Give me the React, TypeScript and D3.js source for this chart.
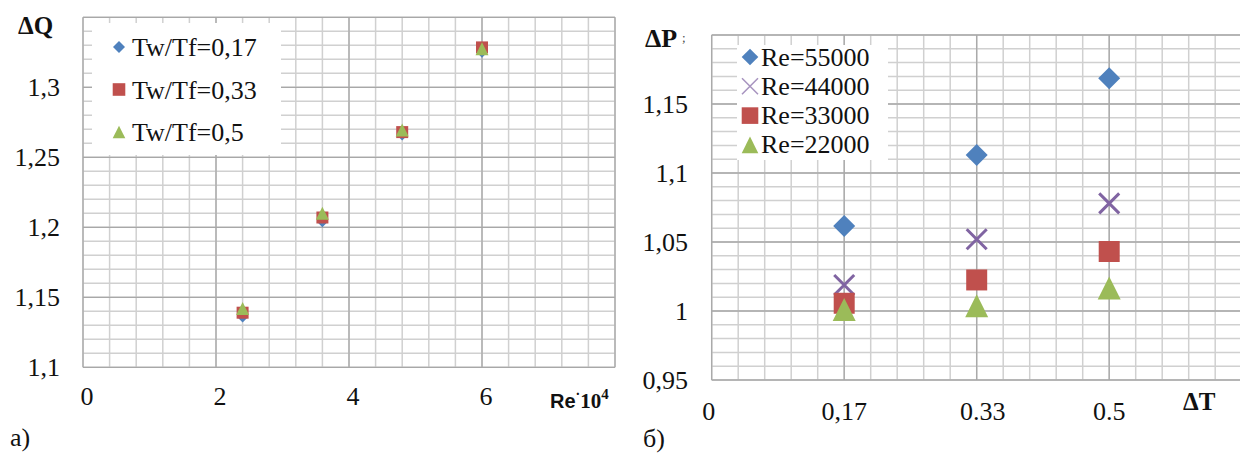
import React from "react";
import * as d3 from "d3";

// ---------- Data: chart a) ----------
const reValues = [2.4, 3.6, 4.8, 6.0];
const seriesA_017 = [1.136, 1.204, 1.266, 1.325];
const seriesA_033 = [1.139, 1.207, 1.268, 1.3285];
const seriesA_05 = [1.142, 1.210, 1.2695, 1.3275];
const legendA = ["Tw/Tf=0,17", "Tw/Tf=0,33", "Tw/Tf=0,5"];
const xTicksA = [0, 2, 4, 6];
const yTicksA = [1.1, 1.15, 1.2, 1.25, 1.3];
const yTickLabelsA = ["1,1", "1,15", "1,2", "1,25", "1,3"];

// ---------- Data: chart б) ----------
const dtPositions = [1, 2, 3];
const xTickLabelsB = ["0", "0,17", "0.33", "0.5"];
const re55000 = [1.0616, 1.113, 1.1686];
const re44000 = [1.0188, 1.052, 1.078];
const re33000 = [1.0056, 1.0225, 1.0431];
const re22000 = [1.001, 1.0038, 1.0167];
const legendB = ["Re=55000", "Re=44000", "Re=33000", "Re=22000"];
const yTicksB = [0.95, 1, 1.05, 1.1, 1.15];
const yTickLabelsB = ["0,95", "1", "1,05", "1,1", "1,15"];

const BLUE = "#4F81BD";
const RED = "#C0504D";
const GREEN = "#9BBB59";
const PURPLE = "#8064A2";
const MINOR = "#d0d0d0";
const MAJOR = "#a8a8a8";
const SERIF = '"Liberation Serif", "Times New Roman", "DejaVu Serif", serif';
const SANS = '"Liberation Sans", Arial, sans-serif';

function diamond(cx: number, cy: number, r: number) {
  return `M${cx},${cy - r}L${cx + r},${cy}L${cx},${cy + r}L${cx - r},${cy}Z`;
}
function square(cx: number, cy: number, r: number) {
  return `M${cx - r},${cy - r}H${cx + r}V${cy + r}H${cx - r}Z`;
}
function triangle(cx: number, cy: number, r: number) {
  return `M${cx},${cy - r}L${cx + r},${cy + r}L${cx - r},${cy + r}Z`;
}
function cross(cx: number, cy: number, r: number) {
  return `M${cx - r},${cy - r}L${cx + r},${cy + r}M${cx + r},${cy - r}L${cx - r},${cy + r}`;
}

function Grid({ x, y, xMinor, xMajor, yMinor, yMajor }: any) {
  const [x0, x1] = x.range();
  const [y0, y1] = y.range();
  return (
    <g>
      {yMinor.map((v: number, i: number) => (
        <line key={"ym" + i} x1={x0} x2={x1} y1={y(v)} y2={y(v)} stroke={MINOR} strokeWidth={1.5} />
      ))}
      {xMinor.map((v: number, i: number) => (
        <line key={"xm" + i} x1={x(v)} x2={x(v)} y1={y0} y2={y1} stroke={MINOR} strokeWidth={1.5} />
      ))}
      {yMajor.map((v: number, i: number) => (
        <line key={"yM" + i} x1={x0} x2={x1} y1={y(v)} y2={y(v)} stroke={MAJOR} strokeWidth={1.3} />
      ))}
      {xMajor.map((v: number, i: number) => (
        <line key={"xM" + i} x1={x(v)} x2={x(v)} y1={y0} y2={y1} stroke={MAJOR} strokeWidth={1.3} />
      ))}
    </g>
  );
}

const serifStyle = { fontFamily: SERIF };

export default function App() {
  // ---- chart a scales ----
  const xA = d3.scaleLinear().domain([0, 8]).range([83, 615]);
  const yA = d3.scaleLinear().domain([1.1, 1.35]).range([367.3, 17.3]);
  const xMinorA = d3.range(0, 8.001, 0.4);
  const xMajorA = d3.range(0, 8.001, 2);
  const yMinorA = d3.range(1.1, 1.3501, 0.01);
  const yMajorA = d3.range(1.1, 1.3501, 0.05);

  // ---- chart b scales ----
  const xB = d3.scaleLinear().domain([0, 4]).range([711.7, 1241.7]);
  const yB = d3.scaleLinear().domain([0.95, 1.2]).range([380, 35]);
  const xMinorB = d3.range(0, 4.001, 0.2);
  const xMajorB = d3.range(0, 4.001, 1);
  const yMinorB = d3.range(0.95, 1.2001, 0.01);
  const yMajorB = d3.range(0.95, 1.2001, 0.05);

  const seriesA = [
    { vals: seriesA_017, color: BLUE, shape: diamond, r: 5.5 },
    { vals: seriesA_033, color: RED, shape: square, r: 6 },
    { vals: seriesA_05, color: GREEN, shape: triangle, r: 6.5 },
  ];
  const seriesB = [
    { vals: re55000, color: BLUE, shape: diamond, r: 11 },
    { vals: re44000, color: PURPLE, shape: cross, r: 10 },
    { vals: re33000, color: RED, shape: square, r: 10.5 },
    { vals: re22000, color: GREEN, shape: triangle, r: 11.5 },
  ];

  return (
    <svg
      width={1240}
      height={455}
      style={{ position: "absolute", left: 0, top: 0, background: "#fff", overflow: "hidden" }}
    >
      <style>{`text { font-family: "Liberation Serif", "Times New Roman", "DejaVu Serif", serif; }`}</style>
      <rect x={0} y={0} width={1240} height={455} fill="#fff" />
      {/* ================= Chart a ================= */}
      <Grid x={xA} y={yA} xMinor={xMinorA} xMajor={xMajorA} yMinor={yMinorA} yMajor={yMajorA} />
      {/* legend a */}
      <rect x={92} y={23} width={189} height={132} fill="#fff" />
      {legendA.map((t, i) => {
        const cy = 47 + i * 42.5;
        const s = seriesA[i];
        return (
          <g key={t}>
            <path d={s.shape(119, cy, i === 0 ? 6 : 6.3)} fill={s.color} />
            <text x={132} y={cy + 9} fontSize={26} fill="#111" style={serifStyle}>{t}</text>
          </g>
        );
      })}
      {seriesA.map((s, si) => (
        <g key={si}>
          {s.vals.map((v, i) => (
            <path key={i} d={s.shape(xA(reValues[i]), yA(v), s.r)} fill={s.color} />
          ))}
        </g>
      ))}
      {yTicksA.map((v, i) => (
        <text key={i} x={60} y={yA(v) + 9} textAnchor="end" fontSize={26} fill="#111" style={serifStyle}>
          {yTickLabelsA[i]}
        </text>
      ))}
      {xTicksA.map((v) => (
        <text key={v} x={xA(v) + 4} y={405} textAnchor="middle" fontSize={26} fill="#111" style={serifStyle}>
          {v}
        </text>
      ))}
      <text x={18} y={34} fontSize={25} fontWeight="bold" fill="#111" style={serifStyle}>ΔQ</text>
      <text x={550} y={408} fill="#111" fontWeight="bold" style={serifStyle}>
        <tspan style={{ fontFamily: SANS }} fontSize={20}>Re</tspan>
        <tspan fontSize={14} dy={-9}>·</tspan>
        <tspan fontSize={21} dy={9}>10</tspan>
        <tspan fontSize={15} dy={-9}>4</tspan>
      </text>
      <text x={10} y={446} fontSize={26} fill="#111" style={serifStyle}>а)</text>

      {/* ================= Chart б ================= */}
      <Grid x={xB} y={yB} xMinor={xMinorB} xMajor={xMajorB} yMinor={yMinorB} yMajor={yMajorB} />
      <rect x={737} y={45} width={151} height={115} fill="#fff" />
      {legendB.map((t, i) => {
        const cy = 57 + i * 29.3;
        const s = seriesB[i];
        return (
          <g key={t}>
            {s.shape === cross ? (
              <path d={cross(750, cy, 8)} stroke={s.color} strokeWidth={1.5} fill="none" opacity={0.7} />
            ) : (
              <path d={s.shape(750, cy, 8.3)} fill={s.color} />
            )}
            <text x={761} y={cy + 8.5} fontSize={26} fill="#111" style={serifStyle}>{t}</text>
          </g>
        );
      })}
      {seriesB.map((s, si) => (
        <g key={si}>
          {s.vals.map((v, i) =>
            s.shape === cross ? (
              <path key={i} d={cross(xB(dtPositions[i]), yB(v), s.r)} stroke={s.color} strokeWidth={3} fill="none" />
            ) : (
              <path key={i} d={s.shape(xB(dtPositions[i]), yB(v), s.r)} fill={s.color} />
            )
          )}
        </g>
      ))}
      {yTicksB.map((v, i) => (
        <text key={i} x={688} y={yB(v) + 9} textAnchor="end" fontSize={26} fill="#111" style={serifStyle}>
          {yTickLabelsB[i]}
        </text>
      ))}
      {xTickLabelsB.map((t, i) => (
        <text key={t} x={xB(i) + (i === 0 ? -3 : i === 2 ? 6 : 0)} y={420} textAnchor="middle" fontSize={26} fill="#111" style={serifStyle}>
          {t}
        </text>
      ))}
      <text x={645} y={47} fontSize={26} fontWeight="bold" fill="#111" style={serifStyle}>ΔP</text>
      <text x={682} y={42} fontSize={13} fill="#444" style={serifStyle}>;</text>
      <text x={1183} y={410} fontSize={25} fontWeight="bold" fill="#111" style={serifStyle}>ΔT</text>
      <text x={643} y={447} fontSize={26} fill="#111" style={serifStyle}>б)</text>
    </svg>
  );
}
